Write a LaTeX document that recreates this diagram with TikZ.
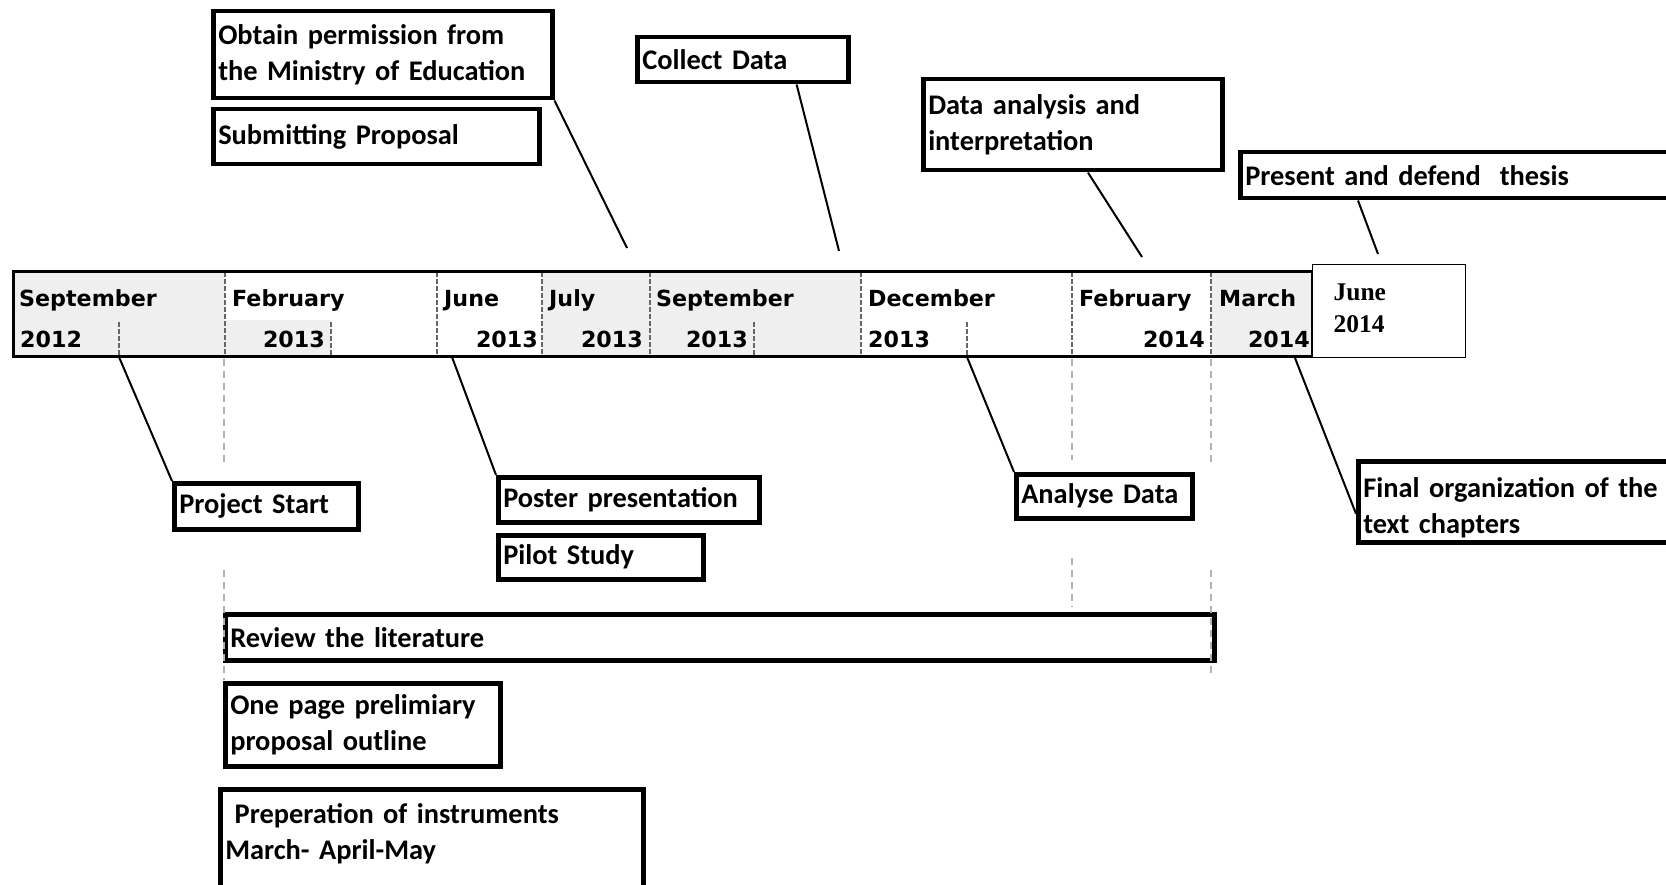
\documentclass[tikz,border=0pt]{standalone}
\usepackage{fontspec}
\setmainfont{Carlito}
\newfontfamily\monthfont{DejaVu Sans}
\newfontfamily\junefont{Liberation Serif}
\usepackage{tikz}
\usetikzlibrary{calc}
\definecolor{cellgray}{HTML}{EFEFEF}

\begin{document}
\begin{tikzpicture}[x=1pt,y=-1pt]
            \tikzstyle{task}=[draw, line width=4.5pt, anchor=north west, align=left, inner xsep=5pt, inner ysep=0pt, font=\bfseries\fontsize{28.4}{36}\selectfont]
            \tikzstyle{month}=[inner sep=0pt, font=\monthfont\bfseries\fontsize{22.2}{26}\selectfont]
            \tikzstyle{cellsep}=[draw=black!60, line width=1.3pt, dash pattern=on 5pt off 2pt]
            \tikzstyle{guide}=[draw=black!30, line width=1.6pt, dash pattern=on 7pt off 5pt]
            \tikzstyle{link}=[draw, line width=2pt]

            \clip (0,0) rectangle (1666,885);

            % timeline bar
            \fill[cellgray] (13,272) rectangle (225,357);
            \fill[cellgray] (225,320) rectangle (331,357);
            \fill[cellgray] (542,272) rectangle (861,357);
            \fill[cellgray] (1211,272) rectangle (1312,357);
            \draw[cellsep] (225,272) -- (225,357);
            \draw[cellsep] (437,272) -- (437,357);
            \draw[cellsep] (542,272) -- (542,357);
            \draw[cellsep] (650,272) -- (650,357);
            \draw[cellsep] (861,272) -- (861,357);
            \draw[cellsep] (1072,272) -- (1072,357);
            \draw[cellsep] (1211,272) -- (1211,357);
            \draw[cellsep] (119,322) -- (119,357);
            \draw[cellsep] (331,322) -- (331,357);
            \draw[cellsep] (754,322) -- (754,357);
            \draw[cellsep] (967,322) -- (967,357);
            \draw[line width=3pt] (13,272) rectangle (1312,357);

            \node[month, anchor=base west] (sepA)  at (19,307)   {September};
            \node[month, anchor=base west] (febA)  at (232,307)  {February};
            \node[month, anchor=base west] (junA)  at (444,307)  {June};
            \node[month, anchor=base west] (julA)  at (549,307)  {July};
            \node[month, anchor=base west] (sepB)  at (656,307)  {September};
            \node[month, anchor=base west] (decA)  at (868,307)  {December};
            \node[month, anchor=base west] (febB)  at (1079,307) {February};
            \node[month, anchor=base west] (marA)  at (1219,307) {March};
            \node[month, anchor=base west] (ySepA) at (20,348)   {2012};
            \node[month, anchor=base east] (yFebA) at (325,348)  {2013};
            \node[month, anchor=base east] (yJunA) at (538,348)  {2013};
            \node[month, anchor=base east] (yJulA) at (643,348)  {2013};
            \node[month, anchor=base east] (ySepB) at (748,348)  {2013};
            \node[month, anchor=base west] (yDecA) at (868,348)  {2013};
            \node[month, anchor=base east] (yFebB) at (1205,348) {2014};
            \node[month, anchor=base east] (yMarA) at (1310,348) {2014};

            \node[draw, line width=1.2pt, fill=white, anchor=north west, align=left, text height=17pt, text depth=38pt, inner ysep=19pt, text width=111pt, inner xsep=21pt,
                  font=\junefont\bfseries\fontsize{25.5}{32}\selectfont] (junB) at (1312,264) {June\\2014};

            % tasks above the bar
            \node[task, text width=329pt, minimum height=87pt] (obtain)   at (211,9)    {Obtain permission from\\the Ministry of Education};
            \node[task, text width=316pt, minimum height=55pt] (submit)   at (211,107)  {Submitting Proposal};
            \node[task, text width=201pt, minimum height=45pt] (collect)  at (635,35)   {Collect Data};
            \node[task, text width=289pt, minimum height=91pt] (analysis) at (921,77)   {Data analysis and\\interpretation};
            \node[task, text width=440pt, minimum height=46pt] (present)  at (1238,150) {Present and defend \ thesis};

            % tasks below the bar
            \node[task, text width=174pt, minimum height=46pt] (projstart) at (172,481)  {Project Start};
            \node[task, text width=251pt, minimum height=45pt] (poster)    at (496,475)  {Poster presentation};
            \node[task, text width=195pt, minimum height=44pt] (pilot)     at (496,533)  {Pilot Study};
            \node[task, text width=166pt, minimum height=44pt] (analyse)   at (1014,472) {Analyse Data};
            \node[task, text width=320pt, text height=22pt, text depth=31pt, inner ysep=14pt] (final) at (1356,459) {Final organization of the\\text chapters};
            \node[task, text width=979pt, minimum height=46pt] (review)    at (223,612)  {Review the literature};
            \node[task, text width=265pt, minimum height=83pt] (onepage)   at (223,681)  {One page prelimiary\\proposal outline};
            \node[task, text width=413pt, text height=22pt, text depth=100pt, inner ysep=12pt] (prep) at (218,787) {\ Preperation of instruments\\March- April-May};

            % connectors
            \coordinate (obtainEnd)   at (627,248);
            \coordinate (collectEnd)  at (839,251);
            \coordinate (analysisEnd) at (1142,257);
            \coordinate (presentEnd)  at (1378,254);
            \coordinate (startTick)   at (119,357);
            \coordinate (posterTick)  at (452,357);
            \coordinate (analyseTick) at (967,357);
            \coordinate (finalTick)   at (1295,358);
            \draw[link] (obtain.south east) -- (obtainEnd);
            \draw[link] ($(collect.south west)!0.75!(collect.south east)$) -- (collectEnd);
            \draw[link] ($(analysis.south west)!0.55!(analysis.south east)$) -- (analysisEnd);
            \draw[link] ([xshift=120pt]present.south west) -- (presentEnd);
            \draw[link] (startTick) -- (projstart.north west);
            \draw[link] (posterTick) -- (poster.north west);
            \draw[link] (analyseTick) -- (analyse.north west);
            \draw[link] (finalTick) -- ([yshift=-12pt]final.west);

            % guides
            \draw[guide] (224,359) -- (224,463);
            \draw[guide] (224,570) -- (224,680);
            \draw[guide] (1072,359) -- (1072,460);
            \draw[guide] (1072,558) -- (1072,607);
            \draw[guide] (1211,359) -- (1211,463);
            \draw[guide] (1211,570) -- (1211,675);
\end{tikzpicture}
\end{document}
